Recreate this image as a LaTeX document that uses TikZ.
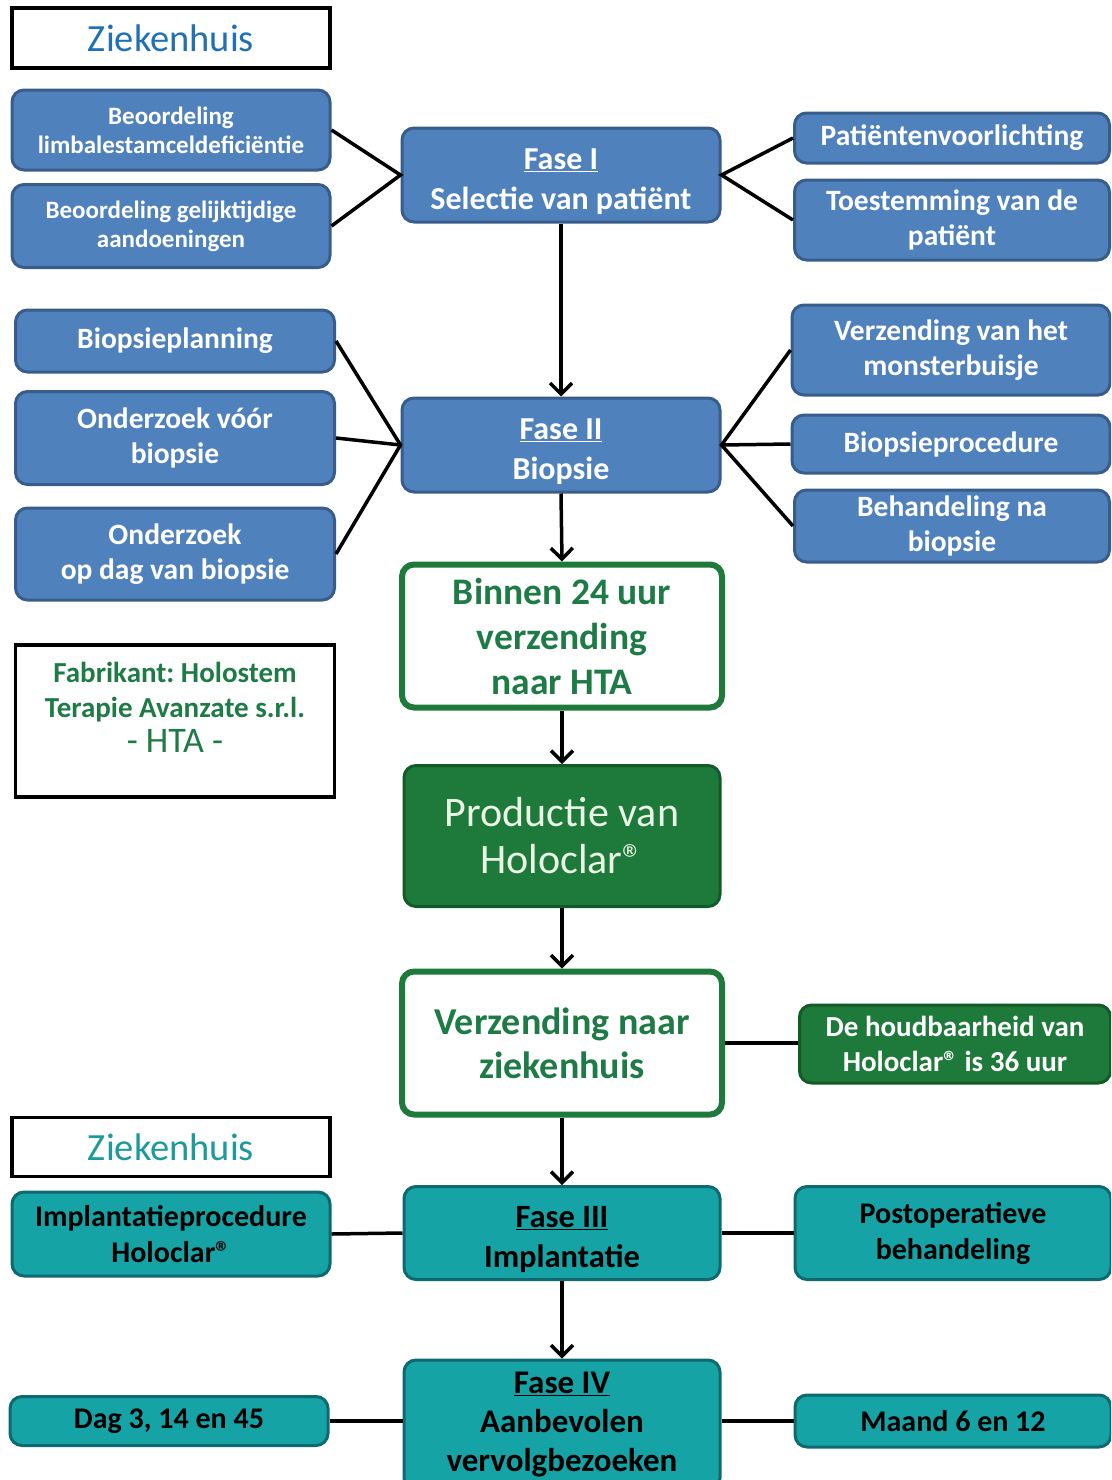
\documentclass[tikz,border=0pt]{standalone}
\usepackage{fontspec}
\setmainfont{Carlito}
\usetikzlibrary{arrows.meta}
\frenchspacing

\definecolor{boxblue}{HTML}{4F81BD}
\definecolor{edgeblue}{HTML}{385D8A}
\definecolor{darkgreen}{HTML}{1D7A3A}
\definecolor{edgegreen}{HTML}{135A29}
\definecolor{textgreen}{HTML}{1E7B45}
\definecolor{lightgreen}{HTML}{EAF5E6}
\definecolor{boxteal}{HTML}{15A3A6}
\definecolor{edgeteal}{HTML}{0E6A6E}
\definecolor{headblue}{HTML}{1F70B4}
\definecolor{headteal}{HTML}{1C9A9C}

\newcommand{\regmark}{®}

\tikzset{
  base/.style={rounded corners=12pt, line width=3pt, align=center, inner sep=0pt},
  bluebox/.style={base, draw=edgeblue, fill=boxblue, text=white,
    font=\bfseries\fontsize{29.5}{35}\selectfont},
  smallblue/.style={bluebox, font=\bfseries\fontsize{25}{29}\selectfont},
  fasebox/.style={bluebox, font=\bfseries\fontsize{32}{40}\selectfont},
  openbox/.style={base, line width=6pt, draw=darkgreen, fill=white, text=textgreen,
    font=\bfseries\fontsize{37.5}{45}\selectfont},
  greenbox/.style={base, draw=edgegreen, fill=darkgreen, text=white,
    font=\bfseries\fontsize{29}{35}\selectfont},
  tealbox/.style={base, draw=edgeteal, fill=boxteal, text=black,
    font=\bfseries\fontsize{30}{36}\selectfont},
  headbox/.style={draw=black, line width=3.5pt, fill=white, align=center, inner sep=0pt,
    font=\fontsize{38.5}{40}\selectfont},
  link/.style={line width=3.5pt, draw=black},
  flow/.style={link, -{Straight Barb[length=11pt, width=22pt]}}
}

\begin{document}
\begin{tikzpicture}[x=1pt, y=-1pt]
\clip (0,0) rectangle (1111,1480);
\fill[white] (0,0) rectangle (1111,1480);

% hospital, phase I
\node[headbox, text=headblue, minimum width=318pt, minimum height=60pt] (zkA) at (171,38) {Ziekenhuis};
\node[smallblue, minimum width=318pt, minimum height=80pt] (lim) at (171,130) {Beoordeling\\limbalestamceldeficiëntie};
\node[smallblue, minimum width=318pt, minimum height=83pt] (gel) at (171,226) {Beoordeling gelijktijdige\\aandoeningen};
\node[fasebox, minimum width=318pt, minimum height=94pt] (f1) at (561,175) {\mbox{}\\[-6pt]\underline{Fase I}\\Selectie van patiënt};
\node[bluebox, minimum width=315pt, minimum height=50pt] (pat) at (952,138) {Patiëntenvoorlichting};
\node[bluebox, minimum width=315pt, minimum height=80pt] (toe) at (952,220) {Toestemming van de\\patiënt};

% phase II
\node[bluebox, minimum width=319pt, minimum height=62pt] (bpl) at (175,341) {Biopsieplanning};
\node[bluebox, minimum width=319pt, minimum height=93pt] (ovb) at (175,438) {Onderzoek vóór\\biopsie};
\node[bluebox, minimum width=319pt, minimum height=92pt] (odb) at (175,554) {Onderzoek\\op dag van biopsie};
\node[fasebox, minimum width=318pt, minimum height=94pt] (f2) at (561,445) {\mbox{}\\[-6pt]\underline{Fase II}\\Biopsie};
\node[bluebox, minimum width=318pt, minimum height=90pt] (vmb) at (951,350) {Verzending van het\\monsterbuisje};
\node[bluebox, minimum width=318pt, minimum height=58pt] (bpp) at (951,444) {Biopsieprocedure};
\node[bluebox, minimum width=315pt, minimum height=72pt] (bnb) at (952,526) {Behandeling na\\biopsie};

% manufacturer
\node[openbox, minimum width=320pt, minimum height=143pt] (b24) at (562,636) {Binnen 24 uur\\verzending\\naar HTA};
\node[headbox, text=textgreen, minimum width=319pt, minimum height=152pt,
  font=\bfseries\fontsize{29}{35}\selectfont] (fab) at (175,721)
  {Fabrikant: Holostem\\Terapie Avanzate s.r.l.\\{\mdseries\fontsize{36}{40}\selectfont - HTA -}\\[-8pt]~};
\node[greenbox, minimum width=316pt, minimum height=141pt, text=lightgreen,
  font=\fontsize{42}{47}\selectfont] (prd) at (562,836) {Productie van\\Holoclar\regmark};
\node[openbox, minimum width=320pt, minimum height=143pt,
  font=\bfseries\fontsize{38}{44}\selectfont] (vnz) at (562,1043) {Verzending naar\\ziekenhuis};
\node[greenbox, minimum width=311pt, minimum height=78pt] (hdb) at (955,1044) {De houdbaarheid van\\Holoclar\regmark{} is 36 uur};

% hospital, phase III and IV
\node[headbox, text=headteal, minimum width=318pt, minimum height=59pt] (zkB) at (171,1147) {Ziekenhuis};
\node[tealbox, minimum width=318pt, minimum height=84pt] (imp) at (171,1234) {Implantatieprocedure\\Holoclar\regmark};
\node[tealbox, minimum width=316pt, minimum height=93pt, font=\bfseries\fontsize{32.5}{40}\selectfont] (f3) at (562,1233) {\mbox{}\\[-6pt]\underline{Fase III}\\Implantatie};
\node[tealbox, minimum width=316pt, minimum height=93pt] (pop) at (953,1233) {Postoperatieve\\behandeling};
\node[tealbox, minimum width=316pt, minimum height=130pt, font=\bfseries\fontsize{33}{39}\selectfont] (f4) at (562,1425) {\underline{Fase IV}\\Aanbevolen\\vervolgbezoeken};
\node[tealbox, minimum width=318pt, minimum height=49pt] (dag) at (169,1421) {Dag 3, 14 en 45};
\node[tealbox, minimum width=316pt, minimum height=52pt] (mnd) at (953,1421) {Maand 6 en 12};

% connectors
\draw[link] (lim.east) -- (f1.west) -- (gel.east);
\draw[link] (pat.west) -- (f1.east) -- (toe.west);
\draw[link] (bpl.east) -- (f2.west) -- (odb.east);
\draw[link] (ovb.east) -- (f2.west);
\draw[link] (vmb.west) -- (f2.east) -- (bnb.west);
\draw[link] (bpp.west) -- (f2.east);
\draw[link] (vnz.east) -- (vnz.east -| hdb.west);
\draw[link] (imp.east) -- (f3.west);
\draw[link] (f3.east) -- (pop.west);
\draw[link] (dag.east) -- (dag.east -| f4.west);
\draw[link] (mnd.west -| f4.east) -- (mnd.west);

\draw[flow] (f1.south) -- (f2.north);
\draw[flow] (f2.south) -- (b24.north);
\draw[flow] (b24.south) -- (prd.north);
\draw[flow] (prd.south) -- (vnz.north);
\draw[flow] (vnz.south) -- (f3.north);
\draw[flow] (f3.south) -- (f4.north);
\end{tikzpicture}
\end{document}
